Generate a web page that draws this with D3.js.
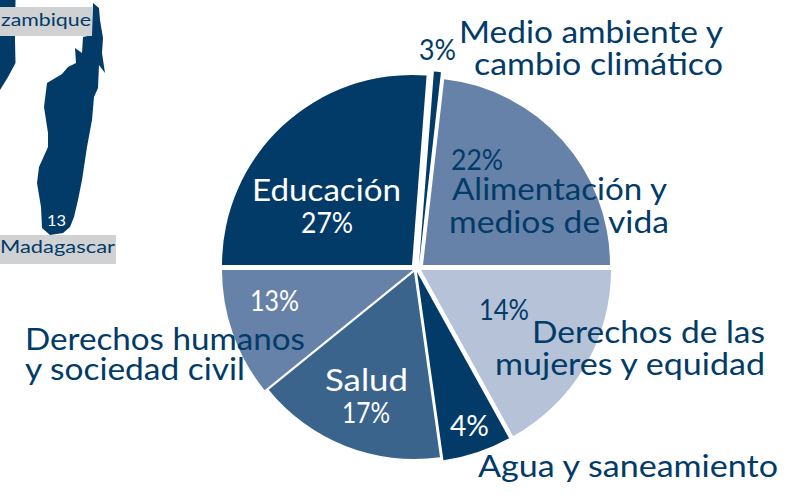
<!DOCTYPE html>
<html>
<head>
<meta charset="utf-8">
<script src="https://cdnjs.cloudflare.com/ajax/libs/d3/7.8.5/d3.min.js"></script>
<style>
html, body { margin: 0; padding: 0; background: #fff; overflow: hidden; }
text { font-family: Lato, "Open Sans", sans-serif; }
</style>
</head>
<body>
<svg id="chart" width="795" height="496"></svg>
<script>
// sector names and printed percentages
const sectors = ["Alimentación y medios de vida", "Derechos de las mujeres y equidad", "Agua y saneamiento", "Salud", "Derechos humanos y sociedad civil", "Educación", "Medio ambiente y cambio climático"];
const printed = [22, 14, 4, 17, 13, 27, 3];
// slice sizes as drawn (degrees of the circle), they don't follow the printed numbers
const drawnShare = [83.5, 61, 21, 59, 39, 94.4, 2.1];

const navy = "#023b68", mid = "#3a648c", steel = "#6682a8", pale = "#b5c2d8";
const sliceColors = [steel, pale, navy, mid, steel, navy, navy];
// every slice sits on its own apex in the original
const apexX = [423, 421, 417, 414, 413, 412, 419];
const apexY = [265, 270, 272, 272, 270, 265, 265];
const radii = [187, 190, 190, 187, 191, 190, 194];

// text, x left, x right, baseline, size, colour
const labels = [
	["Medio ambiente y", 459, 723, 43, 30, navy],
	["cambio climático", 474, 723, 75, 30, navy],
	["3%", 419, 456, 60, 28, navy],
	["22%", 451, 503, 170, 28, navy],
	["Alimentación y", 452, 667, 200, 30, navy],
	["medios de vida", 449, 669, 233, 30, navy],
	["Educación", 252, 401, 201, 30, "#fff"],
	["27%", 301, 353, 233, 28, "#fff"],
	["13%", 250, 299, 311, 28, "#fff"],
	["14%", 479, 529, 320, 28, navy],
	["Derechos de las", 532, 765, 343, 30, navy],
	["mujeres y equidad", 495, 765, 375, 30, navy],
	["Derechos humanos", 25, 305, 350, 30, navy],
	["y sociedad civil", 25, 245, 380, 30, navy],
	["Salud", 325, 408, 391, 30, "#fff"],
	["17%", 342, 390, 423, 28, "#fff"],
	["4%", 450, 489, 436, 28, "#fff"],
	["Agua y saneamiento", 478, 778, 477, 30, navy],
	// map captions, the first one is cut by the picture edge in the original
	["zambique", 1, 91, 26, 18, navy],
	["Madagascar", 0, 115, 253, 18, navy],
	["13", 47, 66, 226, 15, "#fff"]
];

const svg = d3.select("#chart");

// Map fragment, left
const line = d3.line().curve(d3.curveLinear);
const madagascar = [[93,3],[99,8],[100,20],[103,38],[102,53],[105,73],[99,65],[98,88],[94,97],[92,120],[87,147],[82,180],[78,200],[74,217],[70,227],[63,233],[50,235],[42,228],[41,207],[37,183],[39,167],[48,147],[48,133],[44,107],[47,83],[62,74],[68,67],[76,63],[75,48],[82,53],[83,37],[92,35]];
const mozambique = [[0,0],[15.5,0],[15,40],[15.5,63],[8,77],[0,90]];
svg.append("path").attr("d", line(madagascar) + "Z").attr("fill", navy);
svg.append("path").attr("d", line(mozambique) + "Z").attr("fill", navy);

svg.append("rect").attr("x", 0).attr("y", 7).attr("width", 92).attr("height", 29).attr("fill", "#d0d1d3");
svg.append("rect").attr("x", 0).attr("y", 235).attr("width", 116).attr("height", 29).attr("fill", "#d0d1d3");

// Pie
const pie = d3.pie().sort(null).startAngle(6.5 * Math.PI / 180).endAngle((360 + 6.5) * Math.PI / 180);
const arcs = pie(drawnShare);
const arc = d3.arc().innerRadius(0);

svg.append("g").selectAll("path")
	.data(arcs)
	.join("path")
	.attr("transform", (d, i) => `translate(${apexX[i]}, ${apexY[i]})`)
	.attr("d", (d, i) => arc.outerRadius(radii[i])(d))
	.attr("fill", (d, i) => sliceColors[i])
	.append("title").text((d, i) => `${sectors[i]}: ${printed[i]}%`);

// Labels
svg.append("g").selectAll("text")
	.data(labels)
	.join("text")
	.attr("x", d => d[1])
	.attr("y", d => d[3])
	.attr("textLength", d => d[2] - d[1])
	.attr("lengthAdjust", "spacingAndGlyphs")
	.attr("font-size", d => d[4])
	.attr("fill", d => d[5])
	.text(d => d[0]);
</script>
</body>
</html>
